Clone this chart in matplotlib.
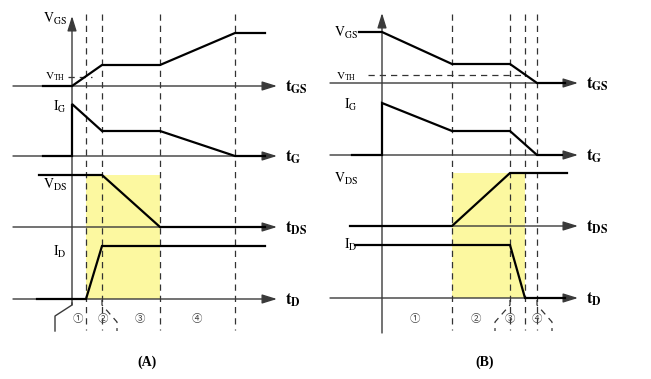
import matplotlib
matplotlib.use("Agg")
import matplotlib.pyplot as plt

plt.rcParams['mathtext.fontset'] = 'stix'
plt.rcParams['font.family'] = ['Liberation Serif', 'Noto Sans CJK SC', 'DejaVu Sans']

# time offsets from the vertical axis, levels above each trace's baseline
a_vgs_t = [-29, 0, 30, 88, 163, 193]
a_vgs_v = [0, 0, 21, 21, 53, 53]
a_vth = 9
a_ig_t = [-29, 0, 0, 30, 88, 163, 193]
a_ig_v = [0, 0, 52, 25, 25, 0, 0]
a_vds_t = [-33, 30, 88, 193]
a_vds_v = [52, 52, 0, 0]
a_id_t = [-35, 14, 30, 193]
a_id_v = [0, 0, 53, 53]
a_marks = [14, 30, 88, 163]
a_shade = (14, 88)

b_vgs_t = [-23, 0, 70, 128, 155, 183]
b_vgs_v = [51, 51, 19, 19, 0, 0]
b_vth = 8
b_ig_t = [-30, 0, 0, 70, 128, 155, 180]
b_ig_v = [0, 0, 52, 24, 24, 0, 0]
b_vds_t = [-32, 70, 128, 185]
b_vds_v = [0, 0, 53, 53]
b_id_t = [-27, 128, 143, 183]
b_id_v = [53, 53, 0, 0]
b_marks = [70, 128, 143, 155]
b_shade = (70, 143)

regions = ['①', '②', '③', '④']
trace_names = [r'$\mathrm{V_{GS}}$', r'$\mathrm{I_{G}}$', r'$\mathrm{V_{DS}}$', r'$\mathrm{I_{D}}$']
axis_names = [r'$\mathbf{t_{GS}}$', r'$\mathbf{t_{G}}$', r'$\mathbf{t_{DS}}$', r'$\mathbf{t_{D}}$']

fig = plt.figure(figsize=(6.51, 3.79), dpi=100)
ax = fig.add_axes([0, 0, 1, 1])
ax.set_xlim(0, 651)
ax.set_ylim(379, 0)
ax.axis('off')

axc = '#3a3a3a'
dash = dict(color='#333333', lw=0.9, linestyle=(0, (5, 4)))
arrow = dict(arrowstyle='-|>,head_length=0.9,head_width=0.28', lw=1.0, color=axc,
             mutation_scale=10, shrinkA=0, shrinkB=0)


def panel(ox, base, traces, vth, vth_span, marks, shade, ax_x0, ax_x1,
          label_x, vlab, vth_lab_y, circ_x, title, title_x, vtop, vbot):
    # shaded region
    top = base[2] - max(traces[2][1])
    ax.fill_between([ox + shade[0], ox + shade[1]], top, base[3],
                    color='#fcf8a0', lw=0, zorder=0)
    # dashed markers
    for m in marks:
        ax.plot([ox + m, ox + m], [14, 330], **dash, zorder=1)
    # time axes
    for i, b in enumerate(base):
        ax.annotate('', xy=(ax_x1, b), xytext=(ax_x0[i], b), arrowprops=arrow)
        ax.text(ax_x1 + 8, b + 1, axis_names[i], fontsize=12, va='center', ha='left')
    # vertical axis
    ax.annotate('', xy=(ox, vtop), xytext=(ox, vbot), arrowprops=arrow)
    # traces
    for i, (t, v) in enumerate(traces):
        ax.plot([ox + x for x in t], [base[i] - y for y in v], color='black',
                lw=1.6, solid_joinstyle='miter', zorder=3)
        ax.text(label_x, vlab[i], trace_names[i], fontsize=10, ha='right', va='center')
    # threshold
    ax.plot([ox + vth_span[0], ox + vth_span[1]], [base[0] - vth] * 2, **dash, zorder=2)
    ax.text(label_x - 2, vth_lab_y, r'$\mathrm{V_{TH}}$', fontsize=8, ha='right', va='center')
    for i, cx in enumerate(circ_x):
        ax.text(cx, 319, regions[i], fontsize=7.5, color='#444444', ha='center', va='center')
    ax.text(title_x, 362, title, fontsize=10, fontweight='bold', ha='center', va='center')


panel(72, [86, 156, 227, 299],
      [(a_vgs_t, a_vgs_v), (a_ig_t, a_ig_v), (a_vds_t, a_vds_v), (a_id_t, a_id_v)],
      a_vth, (-4, 20), a_marks, a_shade, [13, 13, 13, 13], 277,
      67, [19, 107, 185, 252], 77, [78, 103, 140, 197], '(A)', 147, 16, 305)

panel(382, [83, 155, 226, 298],
      [(b_vgs_t, b_vgs_v), (b_ig_t, b_ig_v), (b_vds_t, b_vds_v), (b_id_t, b_id_v)],
      b_vth, (-14, 143), b_marks, b_shade, [330, 330, 350, 330], 578,
      358, [33, 105, 179, 245], 77, [415, 476, 510, 537], '(B)', 485, 13, 333)

# bracket lines under the time axes
ax.plot([72, 72, 55, 55], [303, 305, 316, 331], color=axc, lw=1.0)
ax.plot([102, 102, 117, 117], [300, 305, 322, 331], **dash)
ax.plot([510, 510, 495, 495], [300, 305, 322, 331], **dash)
ax.plot([537, 537, 552, 552], [300, 305, 322, 331], **dash)

fig.savefig('out.png', dpi=100)
